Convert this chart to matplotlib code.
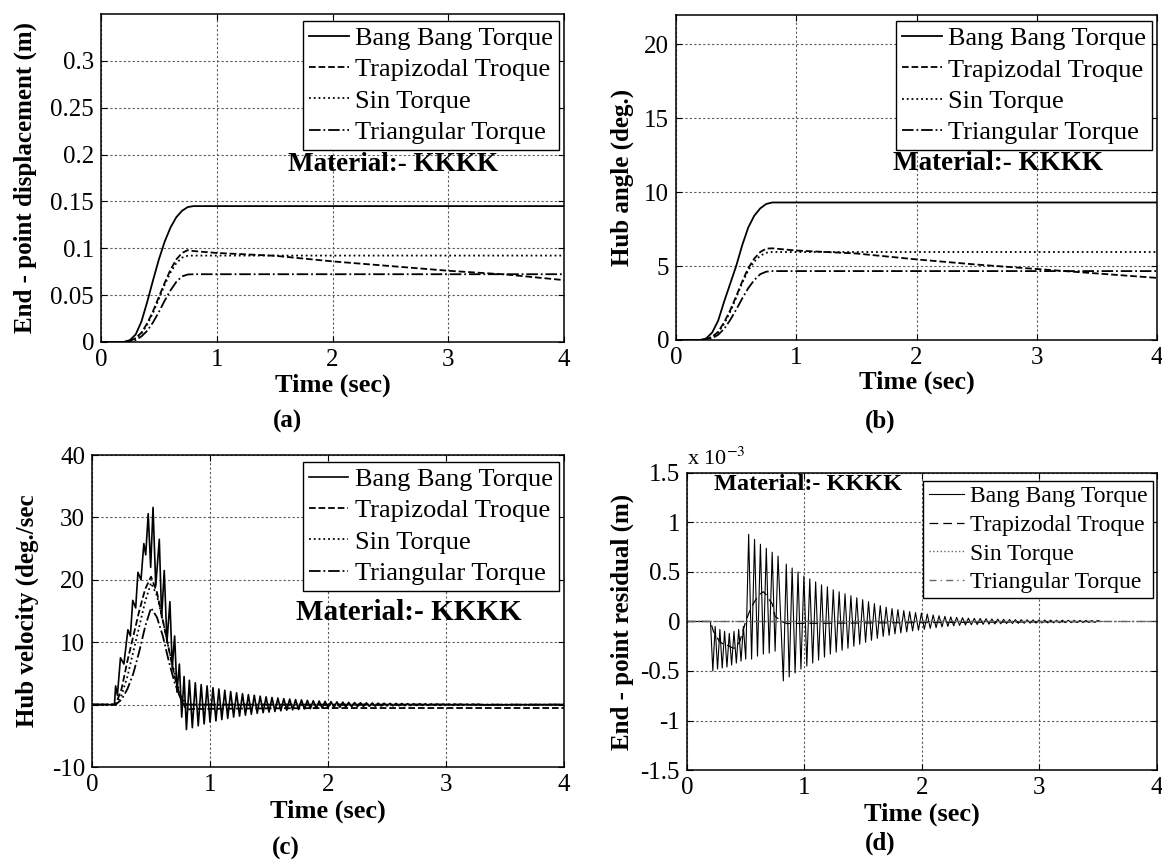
import numpy as np
import matplotlib
matplotlib.use('Agg')
import matplotlib.pyplot as plt
from matplotlib.ticker import FormatStrFormatter

plt.rcParams['font.family'] = ['Liberation Serif', 'DejaVu Serif']
plt.rcParams['mathtext.fontset'] = 'stix'
plt.rcParams['axes.unicode_minus'] = False

labels = ['Bang Bang Torque', 'Trapizodal Troque', 'Sin Torque', 'Triangular Torque']
material = 'Material:- KKKK'

# ---- (a) end-point displacement (m)
t_a = [0.0, 0.2, 0.25, 0.3, 0.35, 0.4, 0.45, 0.5, 0.55, 0.6, 0.65, 0.7, 0.75, 0.8]
bb_a = [0.0, 0.0, 0.002, 0.008, 0.022, 0.043, 0.066, 0.088, 0.107, 0.122, 0.133, 0.14, 0.144, 0.145]
trap_a = [0.0, 0.0, 0.001, 0.004, 0.01, 0.02, 0.033, 0.048, 0.063, 0.077, 0.088, 0.095, 0.098, 0.097]
sin_a = [0.0, 0.0, 0.001, 0.004, 0.009, 0.019, 0.031, 0.046, 0.061, 0.074, 0.084, 0.09, 0.092, 0.0922]
tri_a = [0.0, 0.0, 0.0005, 0.002, 0.006, 0.012, 0.021, 0.032, 0.044, 0.055, 0.064, 0.07, 0.072, 0.0723]
trap_a_tail_t = [1.0, 1.5, 2.0, 2.5, 3.0, 3.5, 4.0]
trap_a_tail = [0.095, 0.092, 0.086, 0.081, 0.076, 0.072, 0.066]

# ---- (b) hub angle (deg.)
t_b = t_a
bb_b = [0.0, 0.0, 0.1, 0.5, 1.3, 2.6, 3.8, 5.0, 6.4, 7.6, 8.4, 8.9, 9.2, 9.3]
trap_b = [0.0, 0.0, 0.05, 0.2, 0.55, 1.2, 2.0, 2.95, 3.95, 4.85, 5.5, 5.95, 6.18, 6.2]
sin_b = [0.0, 0.0, 0.05, 0.2, 0.5, 1.1, 1.9, 2.85, 3.85, 4.7, 5.3, 5.7, 5.9, 5.95]
tri_b = [0.0, 0.0, 0.02, 0.12, 0.35, 0.75, 1.35, 2.05, 2.8, 3.5, 4.05, 4.45, 4.62, 4.66]
trap_b_tail_t = [1.0, 1.5, 2.0, 2.5, 3.0, 3.5, 4.0]
trap_b_tail = [6.05, 5.85, 5.45, 5.1, 4.8, 4.5, 4.2]

# ---- (c) hub velocity (deg./sec)
bb_c_t_rise = [0.0, 0.19, 0.20, 0.215, 0.241, 0.27, 0.304, 0.325, 0.345, 0.37, 0.389,
               0.415, 0.439, 0.455, 0.476, 0.497, 0.517, 0.54, 0.57, 0.59, 0.612, 0.635,
               0.66, 0.68, 0.70, 0.72, 0.74, 0.76, 0.78]
bb_c_v_rise = [0, 0, 3.0, 1.5, 7.5, 6.5, 12.0, 11.0, 16.7, 15.5, 21.2,
               20.0, 25.8, 24.0, 30.6, 22.0, 31.6, 19.0, 26.5, 14.0, 21.5, 10.0,
               16.5, 6.0, 11.0, 2.0, 6.5, -2.0, 4.5]
# half-cycle extremes every 0.025 s from t = 0.8 s
bb_c_osc = [-4.0, 3.9, -3.7, 3.5, -3.4, 3.2, -3.1, 3.0, -2.8,
            2.7, -2.6, 2.5, -2.4, 2.3, -2.2, 2.1, -2.0, 1.9, -1.85,
            1.75, -1.7, 1.6, -1.55, 1.5, -1.4, 1.35, -1.3, 1.25, -1.2,
            1.15, -1.1, 1.05, -1.0, 0.95, -0.9, 0.88, -0.85, 0.8, -0.78,
            0.75, -0.7, 0.68, -0.65, 0.62, -0.6, 0.57, -0.55, 0.52, -0.5,
            0.48, -0.46, 0.44, -0.42, 0.4, -0.38, 0.36, -0.35, 0.33, -0.32,
            0.3, -0.29, 0.28, -0.27, 0.26, -0.25, 0.24, -0.23, 0.22, -0.21,
            0.2, -0.19, 0.18, -0.17, 0.17, -0.16, 0.15, -0.15, 0.14, -0.13,
            0.13, -0.12, 0.12, -0.11, 0.11, -0.1, 0.1, -0.09, 0.09, -0.08,
            0.08, -0.08, 0.07, -0.07, 0.07, -0.06, 0.06, -0.06, 0.05, -0.05, 0.05, -0.05]
t_c = [0.0, 0.2, 0.25, 0.3, 0.35, 0.4, 0.45, 0.5, 0.55, 0.6, 0.65, 0.7, 0.75, 0.8]
trap_c = [0.0, 0.0, 2.5, 7.0, 11.0, 15.0, 18.5, 20.5, 18.0, 13.5, 9.0, 4.5, 1.0, -0.8]
sin_c = [0.0, 0.0, 1.5, 4.5, 8.5, 12.5, 16.5, 19.5, 17.5, 13.5, 9.0, 5.0, 1.5, 0.0]
tri_c = [0.0, 0.0, 0.8, 2.5, 5.0, 8.5, 12.5, 15.5, 14.0, 11.0, 7.0, 3.5, 1.0, 0.0]
trap_c_tail_t = [0.85, 1.5, 2.0, 4.0]
trap_c_tail = [-0.7, -0.6, -0.55, -0.55]

# ---- (d) end-point residual (x 10^-3 m)
bb_d_t_early = [0.0, 0.20, 0.22, 0.24, 0.26, 0.28, 0.30, 0.32, 0.34, 0.36, 0.38, 0.40,
                0.42, 0.44, 0.46, 0.48, 0.50, 0.525, 0.55, 0.575, 0.60, 0.625, 0.65,
                0.675, 0.70, 0.725, 0.75, 0.775]
bb_d_v_early = [0.0, 0.0, -0.5, -0.05, -0.48, -0.08, -0.47, -0.1, -0.46, -0.12, -0.44, -0.1,
                -0.42, -0.08, -0.4, -0.05, -0.38, 0.88, -0.38, 0.83, -0.35, 0.78, -0.33,
                0.74, -0.32, 0.70, -0.3, 0.66]
# half-cycle extremes every 0.025 s from t = 0.82 s
bb_d_osc = [-0.60, 0.58, -0.56, 0.54, -0.52, 0.50, -0.48, 0.46,
            -0.45, 0.43, -0.42, 0.40, -0.39, 0.37, -0.36, 0.35, -0.33, 0.32,
            -0.31, 0.30, -0.29, 0.28, -0.27, 0.26, -0.25, 0.24, -0.23, 0.22,
            -0.21, 0.20, -0.19, 0.18, -0.17, 0.16, -0.15, 0.145, -0.14, 0.13,
            -0.125, 0.12, -0.115, 0.11, -0.105, 0.1, -0.095, 0.09, -0.088, 0.085,
            -0.08, 0.075, -0.07, 0.066, -0.062, 0.058, -0.055, 0.052, -0.049, 0.046,
            -0.044, 0.042, -0.04, 0.038, -0.036, 0.034, -0.033, 0.032, -0.031, 0.03,
            -0.029, 0.028, -0.027, 0.026, -0.025, 0.024, -0.023, 0.022, -0.021, 0.02,
            -0.02, 0.019, -0.019, 0.018, -0.018, 0.017, -0.017, 0.016, -0.016, 0.015,
            -0.015, 0.015, -0.014, 0.014, -0.014, 0.013, -0.013, 0.013, -0.012, 0.012,
            -0.012, 0.012, -0.011, 0.011, -0.011, 0.011, -0.01, 0.01, -0.01, 0.01, 0.0]
trap_d_t = [0, 0.2, 0.225, 0.25, 0.275, 0.3, 0.325, 0.35, 0.375, 0.4, 0.425, 0.45, 0.475,
            0.5, 0.525, 0.55, 0.575, 0.6, 0.625, 0.65, 0.675, 0.7, 0.725, 0.75, 0.775,
            0.8, 0.85, 3.5]
trap_d = [0, 0, -0.1, -0.15, -0.2, -0.22, -0.25, -0.24, -0.26, -0.27, -0.25, -0.2, -0.1,
          0.0, 0.08, 0.15, 0.2, 0.25, 0.28, 0.3, 0.27, 0.22, 0.18, 0.05, 0.03,
          0.0, -0.02, 0.0]
sin_d_t = [0.0, 4.0]
sin_d = [0.0, 0.0]
tri_d_t = [0.0, 4.0]
tri_d = [0.0, 0.0]


def style_axes(ax, ylim, yticks, ylabel, ylab_x, xlab_y):
    ax.set_xlim(0, 4)
    ax.set_ylim(*ylim)
    ax.set_xticks([0, 1, 2, 3, 4])
    ax.set_yticks(yticks)
    ax.yaxis.set_major_formatter(FormatStrFormatter('%g'))
    ax.set_axisbelow(True)
    ax.grid(True, color='0.35', linestyle=(0, (2, 2)), linewidth=0.8)
    ax.tick_params(direction='in', top=True, right=True, length=4, labelsize=18, pad=5)
    for s in ax.spines.values():
        s.set_linewidth(1.1)
    ax.set_xlabel('Time (sec)', fontsize=19, fontweight='bold')
    ax.set_ylabel(ylabel, fontsize=18, fontweight='bold')
    ax.yaxis.set_label_coords(ylab_x, 0.5)
    ax.xaxis.set_label_coords(0.5, xlab_y)


def add_legend(ax, anchor, size):
    leg = ax.legend(loc='upper right', bbox_to_anchor=anchor, borderaxespad=0,
                    fontsize=size, fancybox=False, edgecolor='black', framealpha=1,
                    handlelength=1.5, handletextpad=0.25, borderpad=0.22,
                    labelspacing=0.3)
    leg.get_frame().set_linewidth(1.0)


fig = plt.figure(figsize=(11.62, 8.59), dpi=100)
ax_a = fig.add_axes([0.0869, 0.6019, 0.3985, 0.3818])
ax_b = fig.add_axes([0.5818, 0.6042, 0.4139, 0.3787])
ax_c = fig.add_axes([0.0792, 0.1071, 0.4062, 0.3632])
ax_d = fig.add_axes([0.5912, 0.1036, 0.4045, 0.3458])

lw = 1.3
# (a)
ax_a.plot(t_a + [4.0], bb_a + [bb_a[-1]], 'k-', lw=lw, label=labels[0])
ax_a.plot(t_a + trap_a_tail_t, trap_a + trap_a_tail, 'k--', lw=lw, label=labels[1])
ax_a.plot(t_a + [4.0], sin_a + [sin_a[-1]], 'k:', lw=lw, label=labels[2])
ax_a.plot(t_a + [4.0], tri_a + [tri_a[-1]], 'k-.', lw=lw, label=labels[3])
style_axes(ax_a, (0, 0.35), [0, 0.05, 0.1, 0.15, 0.2, 0.25, 0.3],
           'End - point displacement (m)', -0.138, -0.095)
add_legend(ax_a, (0.989, 0.98), 19)
ax_a.text(0.63, 0.54, material, transform=ax_a.transAxes, fontsize=19.5,
          fontweight='bold', ha='center', va='center')

# (b)
ax_b.plot(t_b + [4.0], bb_b + [bb_b[-1]], 'k-', lw=lw, label=labels[0])
ax_b.plot(t_b + trap_b_tail_t, trap_b + trap_b_tail, 'k--', lw=lw, label=labels[1])
ax_b.plot(t_b + [4.0], sin_b + [sin_b[-1]], 'k:', lw=lw, label=labels[2])
ax_b.plot(t_b + [4.0], tri_b + [tri_b[-1]], 'k-.', lw=lw, label=labels[3])
style_axes(ax_b, (0, 22), [0, 5, 10, 15, 20], 'Hub angle (deg.)', -0.087, -0.095)
add_legend(ax_b, (0.99, 0.981), 19)
ax_b.text(0.669, 0.543, material, transform=ax_b.transAxes, fontsize=19.5,
          fontweight='bold', ha='center', va='center')

# (c)
bb_c_t = bb_c_t_rise + list(0.8 + 0.025 * np.arange(len(bb_c_osc))) + [4.0]
bb_c_v = bb_c_v_rise + bb_c_osc + [0.0]
ax_c.plot(bb_c_t, bb_c_v, 'k-', lw=1.2, label=labels[0])
ax_c.plot(t_c + trap_c_tail_t, trap_c + trap_c_tail, 'k--', lw=lw, label=labels[1])
ax_c.plot(t_c + [4.0], sin_c + [0.0], 'k:', lw=lw, label=labels[2])
ax_c.plot(t_c + [4.0], tri_c + [0.0], 'k-.', lw=lw, label=labels[3])
style_axes(ax_c, (-10, 40), [-10, 0, 10, 20, 30, 40], 'Hub velocity (deg./sec',
           -0.112, -0.106)
add_legend(ax_c, (0.989, 0.979), 19)
ax_c.text(0.672, 0.495, material, transform=ax_c.transAxes, fontsize=21,
          fontweight='bold', ha='center', va='center')

# (d)
bb_d_t = bb_d_t_early + list(0.82 + 0.025 * np.arange(len(bb_d_osc)))
bb_d_v = bb_d_v_early + bb_d_osc
ax_d.plot(bb_d_t, bb_d_v, 'k-', lw=0.8, label=labels[0])
ax_d.plot(trap_d_t, trap_d, color='k', linestyle=(0, (7, 4)), lw=0.9, label=labels[1])
ax_d.plot(sin_d_t, sin_d, color='0.4', linestyle=':', lw=1.0, label=labels[2])
ax_d.plot(tri_d_t, tri_d, color='0.4', linestyle=(0, (5, 3, 1, 3)), lw=1.0, label=labels[3])
style_axes(ax_d, (-1.5, 1.5), [-1.5, -1, -0.5, 0, 0.5, 1, 1.5],
           'End - point residual (m)', -0.113, -0.11)
add_legend(ax_d, (0.991, 0.974), 17)
ax_d.text(0.257, 0.96, material, transform=ax_d.transAxes, fontsize=17.5,
          fontweight='bold', ha='center', va='center')
ax_d.text(0.0, 1.012, r'x 10$^{-3}$', transform=ax_d.transAxes, fontsize=16,
          ha='left', va='bottom')

# panel captions
for x, y, s in [(287, 421, '(a)'), (880, 421, '(b)'), (286, 848, '(c)'), (880, 843, '(d)')]:
    fig.text(x / 1162, 1 - y / 859, s, fontsize=18, fontweight='bold',
             ha='center', va='center')

fig.savefig('out.png', dpi=100)
